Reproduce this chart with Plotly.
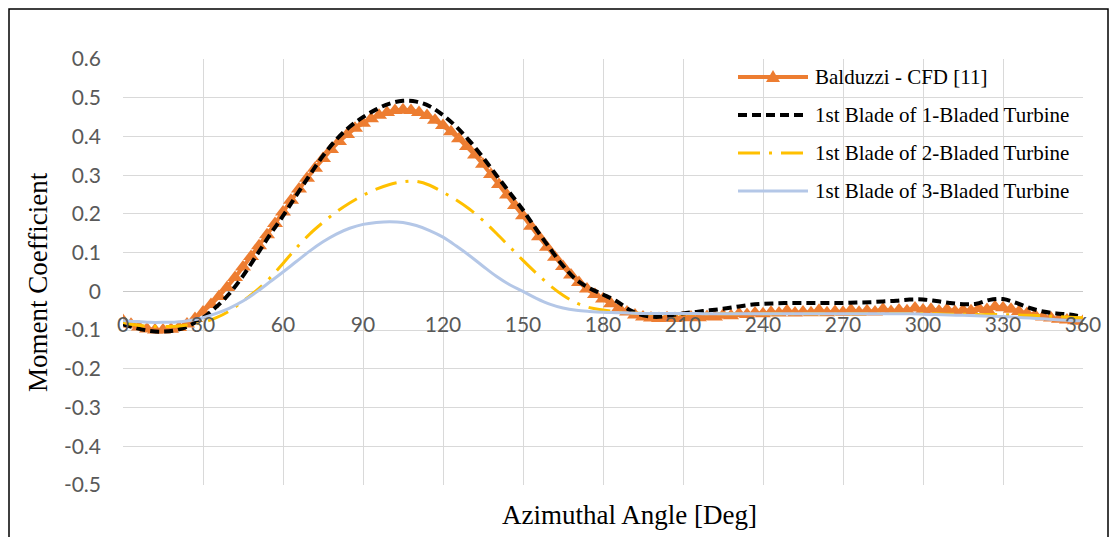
import plotly.graph_objects as go

# ---------------- data ----------------
angles_cfd = list(range(0, 361, 3))
balduzzi_cfd = [
    -0.075, -0.085, -0.092, -0.097, -0.100, -0.100, -0.098, -0.093, -0.084, -0.070,
    -0.053, -0.034, -0.013, 0.010, 0.036, 0.063, 0.090, 0.118, 0.146, 0.175,
    0.205, 0.235, 0.264, 0.292, 0.318, 0.343, 0.366, 0.387, 0.405, 0.421,
    0.434, 0.446, 0.455, 0.462, 0.467, 0.469, 0.467, 0.462, 0.454, 0.442,
    0.428, 0.412, 0.394, 0.374, 0.352, 0.328, 0.302, 0.276, 0.249, 0.222,
    0.195, 0.168, 0.141, 0.114, 0.088, 0.064, 0.042, 0.023, 0.006, -0.008,
    -0.020, -0.032, -0.043, -0.053, -0.061, -0.066, -0.069, -0.070, -0.068, -0.070,
    -0.068, -0.066, -0.068, -0.065, -0.066, -0.062, -0.063, -0.058, -0.060, -0.056,
    -0.058, -0.054, -0.056, -0.050, -0.056, -0.053, -0.055, -0.049, -0.055, -0.052,
    -0.054, -0.048, -0.054, -0.050, -0.053, -0.046, -0.052, -0.048, -0.050, -0.043,
    -0.048, -0.046, -0.051, -0.047, -0.052, -0.049, -0.050, -0.044, -0.047, -0.040,
    -0.042, -0.046, -0.052, -0.057, -0.062, -0.066, -0.069, -0.072, -0.074, -0.076,
    -0.077,
]

angles_model = list(range(0, 361, 5))
blade1_of_1 = [
    -0.085, -0.095, -0.102, -0.104, -0.100, -0.088, -0.068, -0.040, -0.005, 0.040,
    0.092, 0.145, 0.195, 0.248, 0.300, 0.350, 0.392, 0.425, 0.450, 0.470,
    0.485, 0.492, 0.490, 0.478, 0.455, 0.425, 0.388, 0.346, 0.300, 0.255,
    0.210, 0.160, 0.112, 0.066, 0.030, 0.008, -0.008, -0.025, -0.048, -0.062,
    -0.066, -0.062, -0.057, -0.053, -0.049, -0.045, -0.040, -0.035, -0.032, -0.031,
    -0.030, -0.030, -0.030, -0.030, -0.030, -0.029, -0.028, -0.026, -0.024, -0.021,
    -0.021, -0.025, -0.030, -0.033, -0.032, -0.022, -0.020, -0.030, -0.043, -0.052,
    -0.057, -0.060, -0.066,
]
blade1_of_2 = [
    -0.080, -0.087, -0.090, -0.091, -0.090, -0.086, -0.080, -0.068, -0.050, -0.025,
    0.002, 0.034, 0.072, 0.112, 0.148, 0.178, 0.205, 0.228, 0.248, 0.264,
    0.276, 0.283, 0.284, 0.274, 0.256, 0.236, 0.212, 0.183, 0.150, 0.115,
    0.080, 0.047, 0.016, -0.010, -0.030, -0.042, -0.048, -0.053, -0.056, -0.057,
    -0.058, -0.058, -0.058, -0.058, -0.058, -0.058, -0.058, -0.058, -0.058, -0.058,
    -0.058, -0.058, -0.058, -0.058, -0.058, -0.058, -0.057, -0.057, -0.057, -0.057,
    -0.057, -0.058, -0.059, -0.059, -0.060, -0.060, -0.060, -0.061, -0.062, -0.063,
    -0.065, -0.067, -0.068,
]
blade1_of_3 = [
    -0.075, -0.078, -0.080, -0.080, -0.079, -0.075, -0.068, -0.057, -0.043, -0.025,
    -0.002, 0.024, 0.050, 0.077, 0.104, 0.128, 0.148, 0.163, 0.173, 0.178,
    0.180, 0.178, 0.170, 0.157, 0.140, 0.117, 0.092, 0.065, 0.039, 0.017,
    0.000, -0.018, -0.033, -0.043, -0.049, -0.052, -0.054, -0.055, -0.056, -0.057,
    -0.057, -0.057, -0.057, -0.057, -0.058, -0.058, -0.058, -0.058, -0.058, -0.058,
    -0.058, -0.058, -0.058, -0.058, -0.058, -0.058, -0.058, -0.058, -0.058, -0.058,
    -0.059, -0.060, -0.061, -0.062, -0.063, -0.064, -0.065, -0.067, -0.069, -0.071,
    -0.073, -0.075, -0.076,
]

series_names = [
    "Balduzzi - CFD [11]",
    "1st Blade of 1-Bladed Turbine",
    "1st Blade of 2-Bladed Turbine",
    "1st Blade of 3-Bladed Turbine",
]
x_ticks = list(range(0, 361, 30))
y_ticks = [-0.5, -0.4, -0.3, -0.2, -0.1, 0, 0.1, 0.2, 0.3, 0.4, 0.5, 0.6]
y_ticktext = ["-0.5", "-0.4", "-0.3", "-0.2", "-0.1", "0", "0.1", "0.2", "0.3", "0.4", "0.5", "0.6"]

# ---------------- styles ----------------
ORANGE = "#ED7D31"
BLACK = "#000000"
YELLOW = "#FFC000"
BLUE = "#B4C7E7"
DASH_BLACK = "9px,5px"
DASH_YELLOW = "22px,9px,3px,9px"

W, H = 1118, 537
ML, MR, MT, MB = 123, 35, 59, 52
PW, PH = W - ML - MR, H - MT - MB


def px(xp):
    return (xp - ML) / PW


def py(yp):
    return (H - MB - yp) / PH


fig = go.Figure()
fig.add_trace(go.Scatter(x=angles_cfd, y=balduzzi_cfd, mode="lines+markers",
                         line=dict(color=ORANGE, width=4),
                         marker=dict(symbol="triangle-up", size=14, color=ORANGE),
                         name=series_names[0], showlegend=False))
fig.add_trace(go.Scatter(x=angles_model, y=blade1_of_1, mode="lines", line_shape="spline",
                         line=dict(color=BLACK, width=4, dash=DASH_BLACK),
                         name=series_names[1], showlegend=False))
fig.add_trace(go.Scatter(x=angles_model, y=blade1_of_2, mode="lines", line_shape="spline",
                         line=dict(color=YELLOW, width=3, dash=DASH_YELLOW),
                         name=series_names[2], showlegend=False))
fig.add_trace(go.Scatter(x=angles_model, y=blade1_of_3, mode="lines", line_shape="spline",
                         line=dict(color=BLUE, width=3),
                         name=series_names[3], showlegend=False))

# ---------------- custom legend (Excel style, long samples) ----------------
shapes = []
annotations = []
legend_rows = [77, 115, 153, 191]
legend_styles = [
    dict(color=ORANGE, width=4, dash="solid"),
    dict(color=BLACK, width=4, dash=DASH_BLACK),
    dict(color=YELLOW, width=3, dash=DASH_YELLOW),
    dict(color=BLUE, width=3, dash="solid"),
]
for name, yrow, st in zip(series_names, legend_rows, legend_styles):
    shapes.append(dict(type="line", xref="paper", yref="paper",
                       x0=px(738), x1=px(808), y0=py(yrow), y1=py(yrow),
                       line=st, layer="above"))
    annotations.append(dict(text=name, xref="paper", yref="paper",
                            x=px(813), y=py(yrow), xanchor="left", yanchor="middle",
                            showarrow=False,
                            font=dict(family="Liberation Serif", size=21, color="#000000")))
# triangle marker for the Balduzzi legend entry
tx, ty = 773, legend_rows[0]
shapes.append(dict(type="path", xref="paper", yref="paper",
                   path="M {} {} L {} {} L {} {} Z".format(px(tx - 7), py(ty + 5), px(tx + 7), py(ty + 5), px(tx), py(ty - 7)),
                   fillcolor=ORANGE, line=dict(color=ORANGE, width=0), layer="above"))

# axis titles
annotations.append(dict(text="Moment Coefficient", xref="paper", yref="paper",
                        x=px(38), y=py(282), textangle=-90, showarrow=False,
                        xanchor="center", yanchor="middle",
                        font=dict(family="Liberation Serif", size=27, color="#000000")))
annotations.append(dict(text="Azimuthal Angle [Deg]", xref="paper", yref="paper",
                        x=px(629), y=py(515), showarrow=False,
                        xanchor="center", yanchor="middle",
                        font=dict(family="Liberation Serif", size=27, color="#000000")))

# outer frame
shapes.append(dict(type="rect", xref="paper", yref="paper",
                   x0=px(9), x1=px(1108), y0=py(545), y1=py(9),
                   line=dict(color="#000000", width=1.5), layer="above"))

fig.update_layout(
    width=W, height=H,
    margin=dict(l=ML, r=MR, t=MT, b=MB),
    paper_bgcolor="white", plot_bgcolor="white",
    showlegend=False,
    shapes=shapes, annotations=annotations,
    xaxis=dict(range=[0, 360], tickvals=x_ticks, showgrid=True, gridcolor="#D9D9D9",
               gridwidth=1, zeroline=False, showline=False, ticks="",
               anchor="free", position=py(310),
               tickfont=dict(family="Lato", size=21, color="#595959")),
    yaxis=dict(range=[-0.5, 0.6], tickvals=y_ticks, ticktext=y_ticktext,
               showgrid=True, gridcolor="#D9D9D9", gridwidth=1,
               zeroline=True, zerolinecolor="#C8C8C8", zerolinewidth=1,
               showline=False, ticks="", ticklabelstandoff=21,
               tickfont=dict(family="Lato", size=21, color="#595959")),
)

fig.write_html("out.html")
